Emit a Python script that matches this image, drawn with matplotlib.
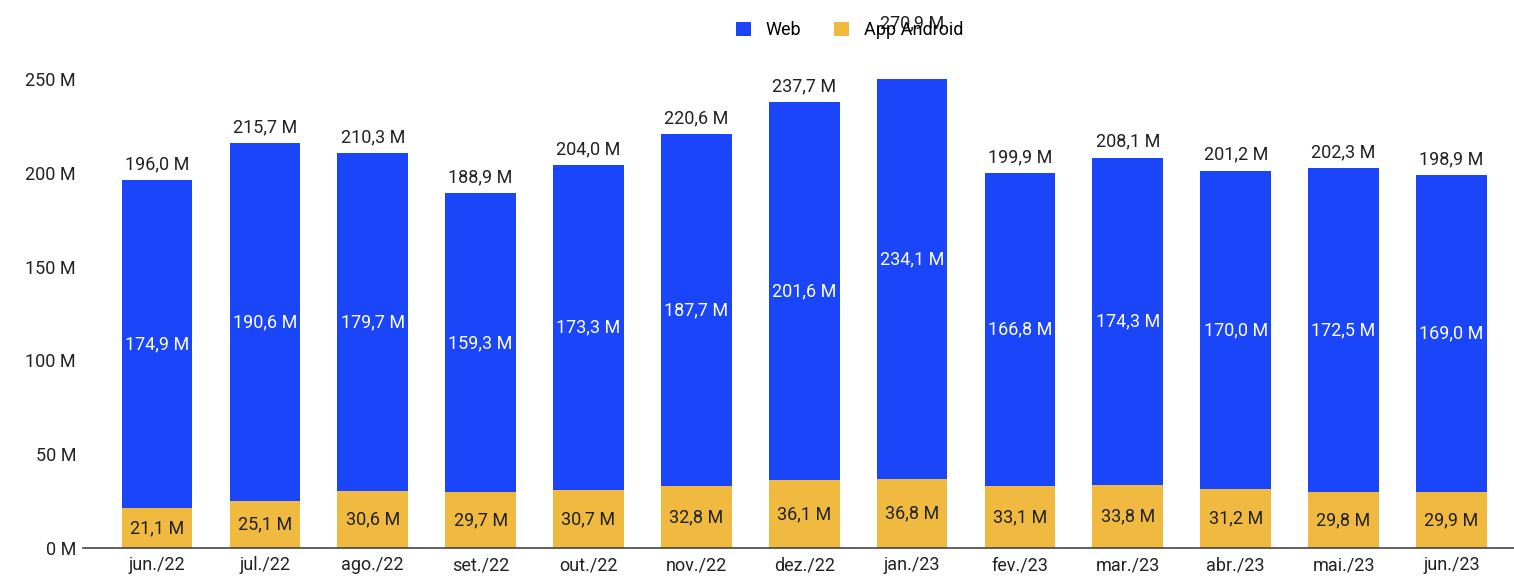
import matplotlib
matplotlib.use("Agg")
import matplotlib.pyplot as plt
import numpy as np

# Data
months = ["jun./22", "jul./22", "ago./22", "set./22", "out./22", "nov./22", "dez./22",
          "jan./23", "fev./23", "mar./23", "abr./23", "mai./23", "jun./23"]
web = [174.9, 190.6, 179.7, 159.3, 173.3, 187.7, 201.6, 234.1, 166.8, 174.3, 170.0, 172.5, 169.0]
android = [21.1, 25.1, 30.6, 29.7, 30.7, 32.8, 36.1, 36.8, 33.1, 33.8, 31.2, 29.8, 29.9]
totals = [196.0, 215.7, 210.3, 188.9, 204.0, 220.6, 237.7, 270.9, 199.9, 208.1, 201.2, 202.3, 198.9]

BLUE = "#1a45f8"
YELLOW = "#efba3f"
TXT = "#222222"
FS = 13

plt.rcParams["font.family"] = ["Roboto", "DejaVu Sans"]


def fmt(v):
    return f"{v:.1f} M".replace(".", ",")


fig = plt.figure(figsize=(15.14, 5.79), dpi=100)
ax = fig.add_axes([0.0548, 0.0535, 0.9452, 0.8101])

x = np.arange(len(months))
w = 0.655
b1 = ax.bar(x, android, w, color=YELLOW, label="App Android", zorder=2)
b2 = ax.bar(x, web, w, bottom=android, color=BLUE, label="Web", zorder=2)

# value labels: android, web (inside the bars) and total on top
for i in range(len(months)):
    ax.text(x[i], android[i] / 2, fmt(android[i]), ha="center", va="center",
            fontsize=FS, color=TXT)
    ax.text(x[i], android[i] + web[i] / 2, fmt(web[i]), ha="center", va="center",
            fontsize=FS, color="white")
    ax.annotate(fmt(totals[i]), (x[i], totals[i]), xytext=(0, 5),
                textcoords="offset points", ha="center", va="bottom",
                fontsize=FS, color=TXT, annotation_clip=False)

ax.set_ylim(0, 250)
ax.set_xlim(-0.686, 12.58)
ax.set_yticks([0, 50, 100, 150, 200, 250])
ax.set_yticklabels([f"{t} M" for t in [0, 50, 100, 150, 200, 250]])
ax.set_xticks(x)
ax.set_xticklabels(months)
ax.tick_params(axis="both", length=0, labelsize=FS, labelcolor=TXT)
ax.tick_params(axis="y", pad=5)
ax.tick_params(axis="x", pad=6)
for s in ["top", "right", "left"]:
    ax.spines[s].set_visible(False)
ax.spines["bottom"].set_color("#444444")
ax.spines["bottom"].set_linewidth(1.2)

handles = [b2, b1]
fig.legend(handles, ["Web", "App Android"], loc="center", bbox_to_anchor=(0.561, 0.948),
           ncol=2, frameon=False, fontsize=FS, handlelength=0.85, handleheight=0.85,
           columnspacing=1.8, handletextpad=0.8)

fig.savefig("out.png", dpi=100)
